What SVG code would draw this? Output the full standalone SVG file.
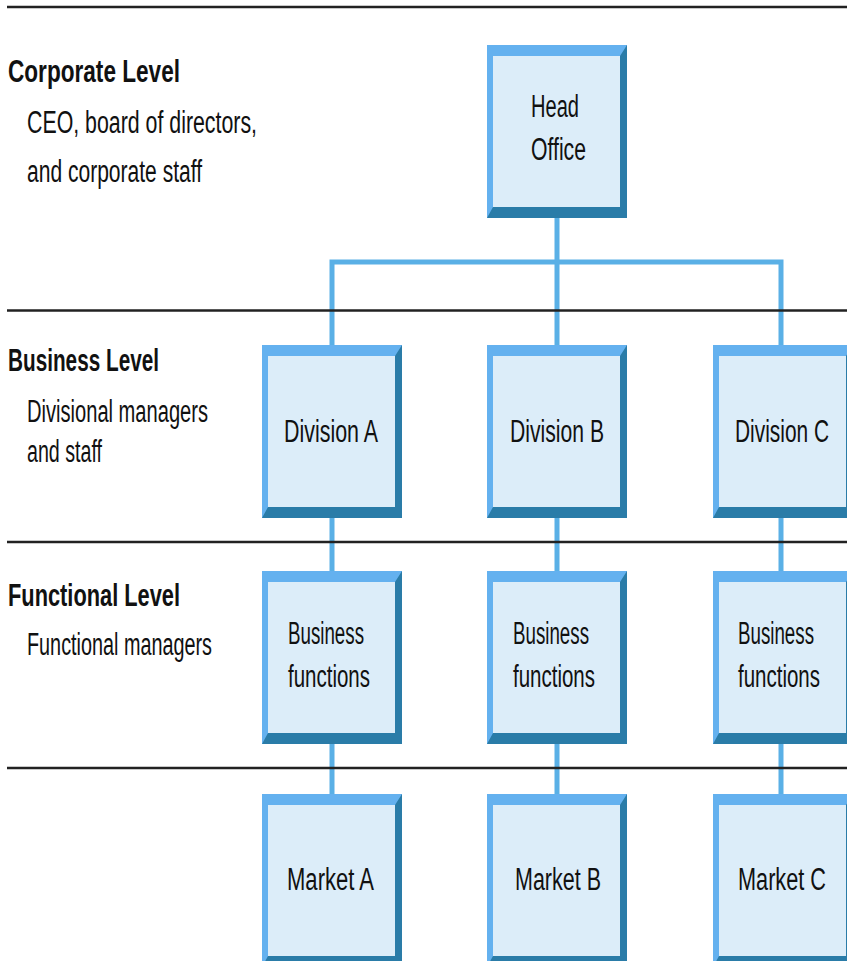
<svg xmlns="http://www.w3.org/2000/svg" width="847" height="961" viewBox="0 0 847 961">
<defs>
<style>
.dark{fill:#2a7ca8}
.light{fill:#64b1ef}
.face{fill:#dcedf9}
.conn{stroke:#5ab0e6;stroke-width:5;fill:none}
.sep{stroke:#222;stroke-width:2.5}
text{font-family:"Liberation Sans Narrow","Liberation Sans",Arial,sans-serif;fill:#111}
.h{font-size:31px;font-weight:bold}
.s{font-size:31px}
.b{font-size:31px}
</style>
</defs>
<rect width="847" height="961" fill="#fff"/>
<g id="connectors">
<path class="conn" d="M557 218V262M332 345V262H781V345M557 262V345"/>
<path class="conn" d="M332 518V571M557 518V571M781 518V571"/>
<path class="conn" d="M332 743V794M557 743V794M781 743V794"/>
</g>
<g id="separators">
<line class="sep" x1="7" y1="7" x2="847" y2="7"/>
<line class="sep" x1="7" y1="310.5" x2="847" y2="310.5"/>
<line class="sep" x1="7" y1="542" x2="847" y2="542"/>
<line class="sep" x1="7" y1="768" x2="847" y2="768"/>
</g>
<g id="labels">
<text class="h" x="8" y="82" textLength="172" lengthAdjust="spacingAndGlyphs">Corporate Level</text>
<text class="s" x="27" y="133" textLength="230" lengthAdjust="spacingAndGlyphs">CEO, board of directors,</text>
<text class="s" x="27" y="182" textLength="175" lengthAdjust="spacingAndGlyphs">and corporate staff</text>
<text class="h" x="8" y="371" textLength="151" lengthAdjust="spacingAndGlyphs">Business Level</text>
<text class="s" x="27" y="422" textLength="181" lengthAdjust="spacingAndGlyphs">Divisional managers</text>
<text class="s" x="27" y="462" textLength="75" lengthAdjust="spacingAndGlyphs">and staff</text>
<text class="h" x="8" y="606" textLength="172" lengthAdjust="spacingAndGlyphs">Functional Level</text>
<text class="s" x="27" y="655" textLength="185" lengthAdjust="spacingAndGlyphs">Functional managers</text>
</g>
<g id="head-office">
<rect class="dark" x="487" y="45" width="140" height="173"/>
<polygon class="light" points="487,45 627,45 620,56 493,56 493,207 487,218"/>
<rect class="face" x="493" y="56" width="127" height="151"/>
<text class="b" x="531" y="117" textLength="48" lengthAdjust="spacingAndGlyphs">Head</text>
<text class="b" x="531" y="160" textLength="55" lengthAdjust="spacingAndGlyphs">Office</text>
</g>
<g id="division-a">
<rect class="dark" x="262" y="345" width="140" height="173"/>
<polygon class="light" points="262,345 402,345 395,356 268,356 268,507 262,518"/>
<rect class="face" x="268" y="356" width="127" height="151"/>
<text class="b" x="284" y="442" textLength="94" lengthAdjust="spacingAndGlyphs">Division A</text>
</g>
<g id="division-b">
<rect class="dark" x="487" y="345" width="140" height="173"/>
<polygon class="light" points="487,345 627,345 620,356 493,356 493,507 487,518"/>
<rect class="face" x="493" y="356" width="127" height="151"/>
<text class="b" x="510" y="442" textLength="94" lengthAdjust="spacingAndGlyphs">Division B</text>
</g>
<g id="division-c">
<rect class="dark" x="713" y="345" width="140" height="173"/>
<polygon class="light" points="713,345 853,345 846,356 719,356 719,507 713,518"/>
<rect class="face" x="719" y="356" width="127" height="151"/>
<text class="b" x="735" y="442" textLength="94" lengthAdjust="spacingAndGlyphs">Division C</text>
</g>
<g id="functions-a">
<rect class="dark" x="262" y="571" width="140" height="173"/>
<polygon class="light" points="262,571 402,571 395,582 268,582 268,733 262,744"/>
<rect class="face" x="268" y="582" width="127" height="151"/>
<text class="b" x="288" y="644" textLength="76" lengthAdjust="spacingAndGlyphs">Business</text>
<text class="b" x="288" y="687" textLength="82" lengthAdjust="spacingAndGlyphs">functions</text>
</g>
<g id="functions-b">
<rect class="dark" x="487" y="571" width="140" height="173"/>
<polygon class="light" points="487,571 627,571 620,582 493,582 493,733 487,744"/>
<rect class="face" x="493" y="582" width="127" height="151"/>
<text class="b" x="513" y="644" textLength="76" lengthAdjust="spacingAndGlyphs">Business</text>
<text class="b" x="513" y="687" textLength="82" lengthAdjust="spacingAndGlyphs">functions</text>
</g>
<g id="functions-c">
<rect class="dark" x="713" y="571" width="140" height="173"/>
<polygon class="light" points="713,571 853,571 846,582 719,582 719,733 713,744"/>
<rect class="face" x="719" y="582" width="127" height="151"/>
<text class="b" x="738" y="644" textLength="76" lengthAdjust="spacingAndGlyphs">Business</text>
<text class="b" x="738" y="687" textLength="82" lengthAdjust="spacingAndGlyphs">functions</text>
</g>
<g id="market-a">
<rect class="dark" x="262" y="794" width="140" height="173"/>
<polygon class="light" points="262,794 402,794 395,805 268,805 268,956 262,967"/>
<rect class="face" x="268" y="805" width="127" height="151"/>
<text class="b" x="287" y="890" textLength="87" lengthAdjust="spacingAndGlyphs">Market A</text>
</g>
<g id="market-b">
<rect class="dark" x="487" y="794" width="140" height="173"/>
<polygon class="light" points="487,794 627,794 620,805 493,805 493,956 487,967"/>
<rect class="face" x="493" y="805" width="127" height="151"/>
<text class="b" x="515" y="890" textLength="86" lengthAdjust="spacingAndGlyphs">Market B</text>
</g>
<g id="market-c">
<rect class="dark" x="713" y="794" width="140" height="173"/>
<polygon class="light" points="713,794 853,794 846,805 719,805 719,956 713,967"/>
<rect class="face" x="719" y="805" width="127" height="151"/>
<text class="b" x="738" y="890" textLength="88" lengthAdjust="spacingAndGlyphs">Market C</text>
</g>
</svg>
